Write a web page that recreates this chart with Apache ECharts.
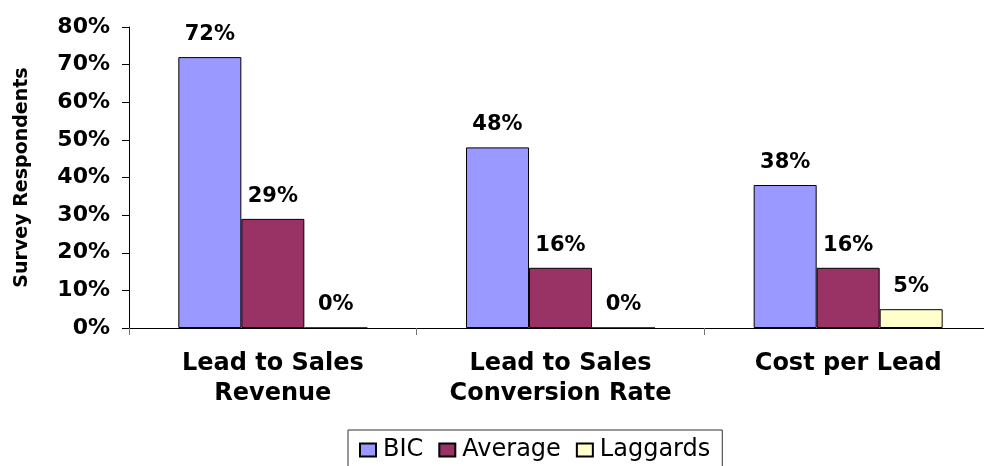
<!DOCTYPE html>
<html>
<head>
<meta charset="utf-8">
<script src="https://cdn.jsdelivr.net/npm/echarts@6/dist/echarts.min.js"></script>
<style>
html,body{margin:0;padding:0;background:#fff;}
#chart{width:984px;height:466px;}
</style>
</head>
<body>
<div id="chart"></div>
<script>
var categories = ['Lead to Sales\nRevenue', 'Lead to Sales\nConversion Rate', 'Cost per Lead'];
var bicValues = [72, 48, 38];
var averageValues = [29, 16, 16];
var laggardValues = [0, 0, 5];
var yTicks = [0, 10, 20, 30, 40, 50, 60, 70, 80];

var FONT = 'DejaVu Sans';
var chart = echarts.init(document.getElementById('chart'));

function barSeries(name, data, color) {
  return {
    name: name,
    type: 'bar',
    data: data,
    barWidth: 63,
    barGap: '0%',
    itemStyle: { color: color, borderColor: '#000', borderWidth: 1 },
    label: {
      show: true,
      position: 'top',
      distance: 12,
      formatter: '{c}%',
      color: '#000',
      fontFamily: FONT,
      fontWeight: 'bold',
      fontSize: 21
    }
  };
}

chart.setOption({
  animation: false,
  backgroundColor: '#fff',
  grid: { left: 129, top: 27, width: 863, height: 301, containLabel: false, outerBoundsMode: 'none' },
  legend: {
    left: 348,
    top: 430,
    padding: [8, 12, 12, 11],
    itemWidth: 16,
    itemHeight: 13,
    itemGap: 15,
    borderColor: '#333',
    borderWidth: 1,
    icon: 'rect',
    textStyle: { fontFamily: FONT, fontSize: 24, color: '#000', padding: [0, 0, 0, 2] },
    data: ['BIC', 'Average', 'Laggards']
  },
  xAxis: {
    type: 'category',
    data: categories,
    axisLine: { lineStyle: { color: '#000', width: 1 } },
    axisTick: { show: true, length: 7, lineStyle: { color: '#777' } },
    axisLabel: {
      margin: 21,
      color: '#000',
      fontFamily: FONT,
      fontWeight: 'bold',
      fontSize: 24,
      lineHeight: 30,
      interval: 0
    }
  },
  yAxis: {
    type: 'value',
    min: 0,
    max: 80,
    interval: 10,
    name: 'Survey Respondents',
    nameLocation: 'middle',
    nameGap: 97,
    nameRotate: 90,
    nameTextStyle: { fontFamily: FONT, fontWeight: 'bold', fontSize: 19, color: '#000' },
    axisLine: { show: true, lineStyle: { color: '#000', width: 1 } },
    axisTick: { show: true, length: 7, lineStyle: { color: '#000' } },
    splitLine: { show: false },
    axisLabel: {
      margin: 19,
      color: '#000',
      fontFamily: FONT,
      fontWeight: 'bold',
      fontSize: 22,
      formatter: function (v) { return yTicks.indexOf(v) >= 0 ? v + '%' : ''; }
    }
  },
  series: [
    barSeries('BIC', bicValues, '#9999FF'),
    barSeries('Average', averageValues, '#993366'),
    barSeries('Laggards', laggardValues, '#FFFFCC')
  ]
});
</script>
</body>
</html>
